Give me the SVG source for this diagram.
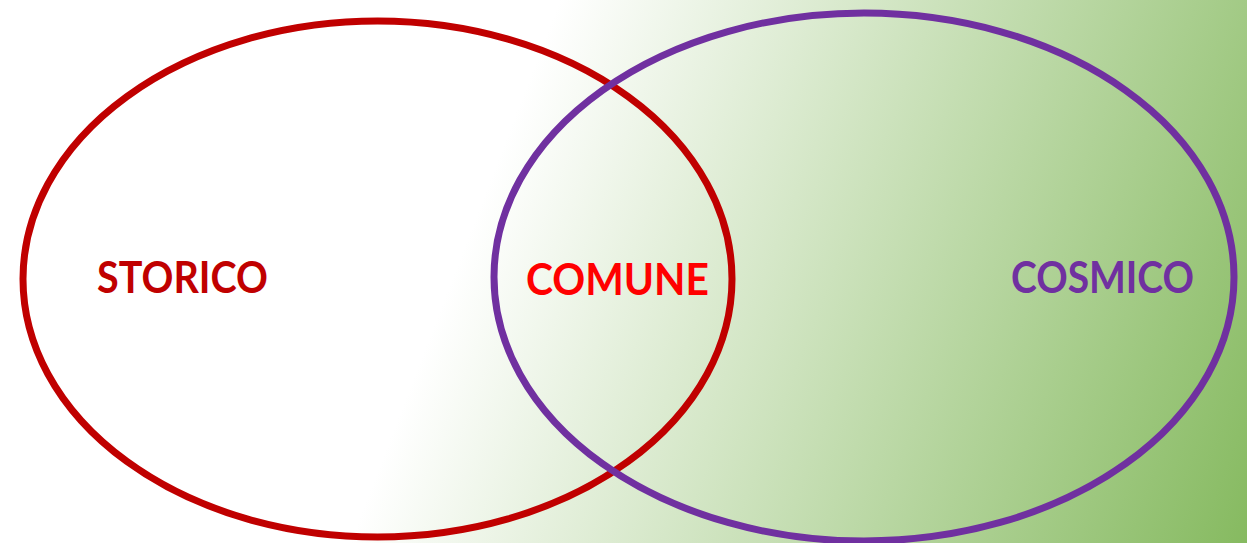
<svg xmlns="http://www.w3.org/2000/svg" width="1247" height="543" viewBox="0 0 1247 543">
  <defs>
    <linearGradient id="bg" gradientUnits="userSpaceOnUse" x1="455" y1="271" x2="1236" y2="573">
      <stop offset="0" stop-color="#ffffff"/>
      <stop offset="1" stop-color="#86BA60"/>
    </linearGradient>
    <style>
      .ring { fill: none; stroke-width: 7; }
      .lbl { font-family: Lato, "Open Sans", "Liberation Sans", sans-serif; font-weight: bold; font-size: 43px; text-anchor: middle; }
    </style>
  </defs>
  <rect x="0" y="0" width="1247" height="543" fill="url(#bg)"/>
  <g id="storico">
    <ellipse class="ring" cx="377.5" cy="279" rx="354.5" ry="258" stroke="#C00000"/>
    <text class="lbl" x="182.5" y="293" fill="#C00000" textLength="171" lengthAdjust="spacingAndGlyphs">STORICO</text>
  </g>
  <g id="cosmico">
    <ellipse class="ring" cx="864" cy="277" rx="370" ry="264" stroke="#7030A0"/>
    <text class="lbl" x="1102.5" y="293" fill="#7030A0" textLength="183" lengthAdjust="spacingAndGlyphs">COSMICO</text>
  </g>
  <g id="comune">
    <text class="lbl" x="617.5" y="295" fill="#FF0000" textLength="183" lengthAdjust="spacingAndGlyphs">COMUNE</text>
  </g>
  <g id="connectors"/>
</svg>
